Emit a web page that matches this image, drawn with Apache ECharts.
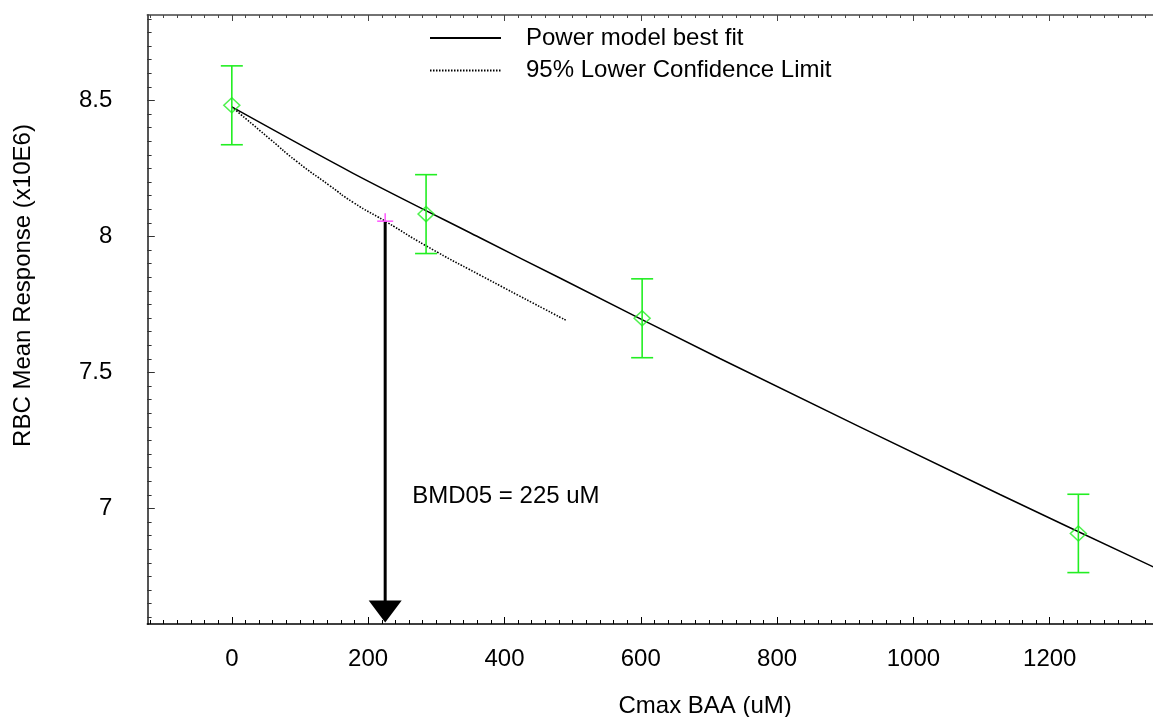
<!DOCTYPE html>
<html>
<head>
<meta charset="utf-8">
<script src="https://cdn.jsdelivr.net/npm/echarts@6/dist/echarts.min.js"></script>
<style>html,body{margin:0;padding:0;background:#fff}#c{width:1153px;height:717px}</style>
</head>
<body>
<div id="c"></div>
<script>
// ---- data ----
const doses = [0, 285, 602, 1242];
const means = [8.482, 8.082, 7.699, 6.908];
const errs = [0.145, 0.145, 0.145, 0.144];
const fitX = [0, 178, 364, 482, 716, 1127, 1352];
const fitY = [8.476, 8.232, 7.995, 7.846, 7.551, 7.051, 6.785];
const bmdlX = [0, 56, 95, 144, 178, 225, 286, 364, 490];
const bmdlY = [8.476, 8.358, 8.276, 8.186, 8.125, 8.056, 7.964, 7.858, 7.692];
const bmd = 225;
const bmdResp = 8.056;
const xMajor = [0, 200, 400, 600, 800, 1000, 1200];
const yMajor = [7, 7.5, 8, 8.5];
const seriesNames = ['Power model best fit', '95% Lower Confidence Limit'];

// ---- build ----
const FONT = 'Liberation Sans, Arial, Helvetica, sans-serif';
const GREEN = '#22ee22';
const xMin = -124, xMax = 1351.5, yMin = 6.575, yMax = 8.814;
const xMinor = [];
for (let v = -120; v <= 1340; v += 20) if (v % 200 !== 0) xMinor.push(v);
const yMinor = [];
for (let k = 132; k <= 176; k++) if (k % 10 !== 0) yMinor.push(Math.round(k * 5) / 100);

const chart = echarts.init(document.getElementById('c'), null, {renderer: 'canvas'});

function xAx(pos, ticks, len, showLine, showLabel, extra) {
  return Object.assign({
    type: 'value', position: pos, min: xMin, max: xMax, gridIndex: 0,
    axisLine: {show: showLine, onZero: false, lineStyle: {color: pos === 'top' ? '#444' : '#000', width: 1.5}},
    axisTick: {show: true, inside: true, length: len, customValues: ticks, lineStyle: {color: pos === 'top' ? '#444' : '#000', width: 1}},
    axisLabel: {show: showLabel, customValues: xMajor, fontSize: 24, color: '#000', fontFamily: FONT, margin: 23,
      formatter: function (v) { return String(v); }},
    splitLine: {show: false}
  }, extra || {});
}
function yAx(ticks, len, showLine, showLabel, extra) {
  return Object.assign({
    type: 'value', position: 'left', min: yMin, max: yMax, gridIndex: 0,
    axisLine: {show: showLine, onZero: false, lineStyle: {color: '#555', width: 2}},
    axisTick: {show: true, inside: true, length: len, customValues: ticks, lineStyle: {color: '#333', width: 1}},
    axisLabel: {show: showLabel, customValues: yMajor, fontSize: 24, color: '#000', fontFamily: FONT, margin: 35,
      formatter: function (v) { return String(v); }},
    splitLine: {show: false}
  }, extra || {});
}

const option = {
  animation: false,
  backgroundColor: '#fff',
  grid: {left: 147.3, right: 0, top: 15, bottom: 93, containLabel: false, outerBoundsMode: 'none'},
  legend: {
    orient: 'vertical', left: 424, top: 21, itemWidth: 71, itemHeight: 14, itemGap: 8.4,
    data: seriesNames,
    itemStyle: {color: 'rgba(0,0,0,0)', borderWidth: 0, opacity: 0},
    textStyle: {fontSize: 24, color: '#000', fontFamily: FONT, padding: [0, 0, 0, 20], lineHeight: 24},
    selectedMode: false
  },
  xAxis: [
    xAx('bottom', xMajor, 7, true, true, {
      name: 'Cmax BAA (uM)', nameLocation: 'middle', nameGap: 70,
      nameTextStyle: {fontSize: 24, color: '#000', fontFamily: FONT, padding: [0, 0, 0, 110]}
    }),
    xAx('bottom', xMinor, 4, false, false),
    xAx('top', xMajor, 6, true, false),
    xAx('top', xMinor, 3, false, false)
  ],
  yAxis: [
    yAx(yMajor, 7.5, true, true, {
      name: 'RBC Mean Response (x10E6)', nameLocation: 'middle', nameGap: 112,
      nameTextStyle: {fontSize: 24, color: '#000', fontFamily: FONT, padding: [0, 0, 0, 68]}
    }),
    yAx(yMinor, 4.3, false, false)
  ],
  series: [
    {
      name: seriesNames[0], type: 'line', xAxisIndex: 0, yAxisIndex: 0,
      data: fitX.map((x, i) => [x, fitY[i]]),
      symbol: 'none', smooth: 0.3, lineStyle: {color: '#000', width: 1.5}, itemStyle: {color: '#000'}, z: 3
    },
    {
      name: seriesNames[1], type: 'line', xAxisIndex: 0, yAxisIndex: 0,
      data: bmdlX.map((x, i) => [x, bmdlY[i]]),
      symbol: 'none', smooth: 0.6, lineStyle: {color: '#000', width: 1.6, type: [1.5, 1.5]}, itemStyle: {color: '#000'}, z: 3
    },
    {
      type: 'custom', xAxisIndex: 0, yAxisIndex: 0, silent: true, z: 4,
      data: doses.map((d, i) => [d, means[i] - errs[i], means[i] + errs[i]]),
      encode: {x: 0, y: [1, 2]},
      renderItem: function (params, api) {
        const lo = api.coord([api.value(0), api.value(1)]);
        const hi = api.coord([api.value(0), api.value(2)]);
        const hw = 11;
        const st = {stroke: GREEN, lineWidth: 1.6};
        return {type: 'group', children: [
          {type: 'line', shape: {x1: lo[0], y1: lo[1], x2: hi[0], y2: hi[1]}, style: st},
          {type: 'line', shape: {x1: lo[0] - hw, y1: lo[1], x2: lo[0] + hw, y2: lo[1]}, style: st},
          {type: 'line', shape: {x1: hi[0] - hw, y1: hi[1], x2: hi[0] + hw, y2: hi[1]}, style: st}
        ]};
      }
    },
    {
      type: 'scatter', xAxisIndex: 0, yAxisIndex: 0, silent: true, z: 5,
      data: doses.map((d, i) => [d, means[i]]),
      symbol: 'diamond', symbolSize: [16, 15],
      itemStyle: {color: 'rgba(0,0,0,0)', borderColor: GREEN, borderWidth: 1.5}
    },
    {
      type: 'custom', xAxisIndex: 0, yAxisIndex: 0, silent: true, z: 6,
      data: [[bmd, bmdResp]],
      renderItem: function (params, api) {
        const top = api.coord([api.value(0), api.value(1)]);
        const bot = api.coord([api.value(0), yMin]);
        const x = top[0];
        const tip = bot[1] - 1.5;
        const headH = 22, headW = 33;
        const lab = api.coord([api.value(0), 7.045]);
        return {type: 'group', children: [
          {type: 'line', shape: {x1: x, y1: top[1], x2: x, y2: tip - headH + 1}, style: {stroke: '#000', lineWidth: 3}},
          {type: 'polygon', shape: {points: [[x - headW / 2, tip - headH], [x + headW / 2, tip - headH], [x, tip]]}, style: {fill: '#000'}},
          {type: 'line', shape: {x1: x - 8, y1: top[1], x2: x + 8, y2: top[1]}, style: {stroke: '#ff55ff', lineWidth: 1.5}},
          {type: 'line', shape: {x1: x, y1: top[1] - 8, x2: x, y2: top[1]}, style: {stroke: '#ff55ff', lineWidth: 1.5}},
          {type: 'text', x: x + 27, y: lab[1], style: {text: 'BMD05 = ' + bmd + ' uM', fontSize: 24, fontFamily: FONT, fill: '#000', align: 'left', verticalAlign: 'middle'}}
        ]};
      }
    }
  ]
};
chart.setOption(option);
</script>
</body>
</html>
